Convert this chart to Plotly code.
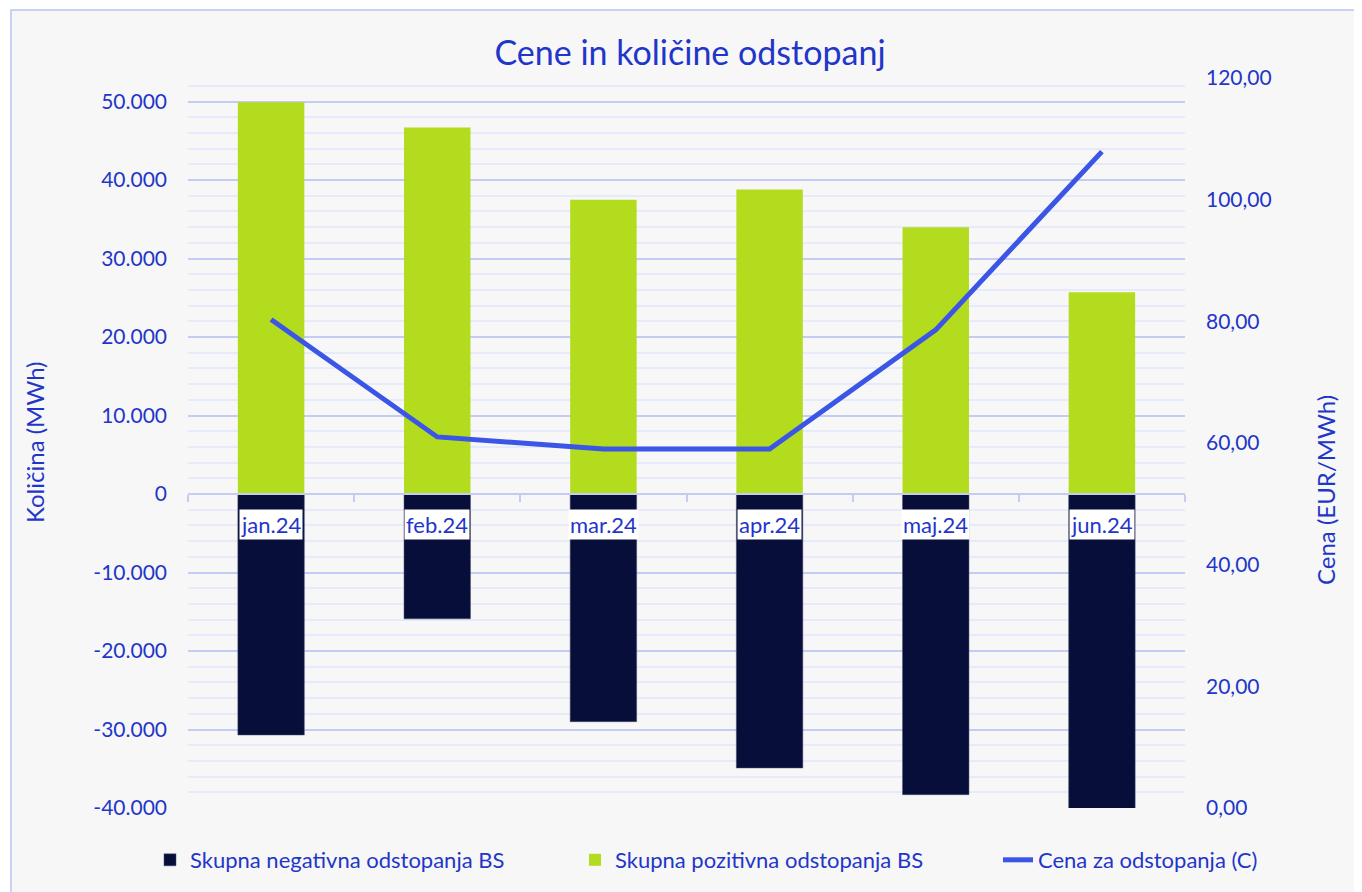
import plotly.graph_objects as go

# --- Data ---
months = ["jan.24", "feb.24", "mar.24", "apr.24", "maj.24", "jun.24"]
negativna = [-30700, -15900, -29000, -34900, -38300, -40200]   # MWh
pozitivna = [49900, 46700, 37500, 38800, 34000, 25700]         # MWh
cena = [80.3, 61.0, 59.0, 59.0, 78.6, 107.9]                   # EUR/MWh
kol_ticks = [-40000, -30000, -20000, -10000, 0, 10000, 20000, 30000, 40000, 50000]

TXT = "#1f36c9"
FONT = "Lato"
GRID = "#c4ccf4"
MINOR = "#e7eafb"

# page body has an 8px margin, so the figure is 8px smaller than the window
OFF = 8
W, H = 1362 - OFF, 892 - OFF
L, R, T, B = 188 - OFF, 1185 - OFF, 78 - OFF, 808 - OFF
pw, ph = R - L, B - T


def px_x(sx):
    # screen x -> paper x
    return (sx - OFF - L) / pw


def px_y(sy):
    # screen y -> paper y
    return (B - (sy - OFF)) / ph


y_lo, y_hi = -40000, 53000

fig = go.Figure()

fig.add_trace(go.Bar(
    x=months, y=negativna, name="Skupna negativna odstopanja BS",
    marker_color="#070e3a", marker_line=dict(color="#4a5070", width=0.5),
    width=0.4, legend="legend",
))
fig.add_trace(go.Bar(
    x=months, y=pozitivna, name="Skupna pozitivna odstopanja BS",
    marker_color="#b3dc1f", marker_line_width=0,
    width=0.4, legend="legend2",
))
fig.add_trace(go.Scatter(
    x=months, y=cena, name="Cena za odstopanja (C)", yaxis="y2",
    mode="lines", line=dict(color="#3b55e6", width=5),
    legend="legend3",
))

# category labels sitting in white boxes just under the zero line
for m in months:
    fig.add_annotation(
        x=m, y=0, xref="x", yref="y", yanchor="top", yshift=-15,
        text=m, showarrow=False, bgcolor="white", borderpad=1,
        font=dict(family=FONT, size=22, color=TXT),
    )

# axis titles
fig.add_annotation(
    x=px_x(35), y=px_y(442), xref="paper", yref="paper",
    xanchor="center", yanchor="middle",
    text="Količina (MWh)", textangle=-90, showarrow=False,
    font=dict(family=FONT, size=24, color=TXT),
)
fig.add_annotation(
    x=px_x(1325), y=px_y(490), xref="paper", yref="paper",
    xanchor="center", yanchor="middle",
    text="Cena (EUR/MWh)", textangle=-90, showarrow=False,
    font=dict(family=FONT, size=24, color=TXT),
)

# chart-area frame
fig.add_shape(
    type="rect", xref="paper", yref="paper", layer="below",
    x0=px_x(11), x1=px_x(1370),
    y0=px_y(900), y1=px_y(10),
    fillcolor="#f7f7f7", line=dict(color="#b9c3f5", width=1.5),
)

legend_style = dict(
    orientation="h", xanchor="left", yanchor="middle", y=px_y(860),
    font=dict(family=FONT, size=22, color=TXT), bgcolor="rgba(0,0,0,0)",
)

fig.update_layout(
    width=W, height=H,
    margin=dict(l=L, r=W - R, t=T, b=H - B, autoexpand=False),
    paper_bgcolor="white",
    plot_bgcolor="rgba(0,0,0,0)",
    barmode="relative",
    separators=",.",
    hovermode=False,
    showlegend=True,
    font=dict(family=FONT, color=TXT),
    title=dict(
        text="Cene in količine odstopanj",
        x=(690 - OFF) / W, y=1 - (53 - OFF) / H,
        xanchor="center", yanchor="middle",
        font=dict(family=FONT, size=34, color=TXT),
    ),
    xaxis=dict(
        type="category", range=[-0.5, 5.5],
        anchor="free", position=(0 - y_lo) / (y_hi - y_lo),
        showline=True, linecolor=GRID, linewidth=1.5,
        ticks="outside", tickson="boundaries", ticklen=7,
        tickcolor=GRID, tickwidth=1.5,
        showticklabels=False, showgrid=False,
    ),
    yaxis=dict(
        range=[y_lo, y_hi],
        tickvals=kol_ticks,
        ticktext=[f"{v:,}".replace(",", ".") for v in kol_ticks],
        showgrid=True, gridcolor=GRID, gridwidth=1.5,
        minor=dict(dtick=2000, showgrid=True, gridcolor=MINOR, gridwidth=1.5),
        zeroline=False, showline=False,
        tickfont=dict(family=FONT, size=21, color=TXT),
        ticklabelstandoff=20,
    ),
    yaxis2=dict(
        overlaying="y", side="right", range=[0, 120], dtick=20,
        tickformat=".2f", showgrid=False, zeroline=False, showline=False,
        tickfont=dict(family=FONT, size=21, color=TXT),
        ticklabelstandoff=20,
    ),
    legend=dict(x=px_x(150), **legend_style),
    legend2=dict(x=px_x(575), **legend_style),
    legend3=dict(x=px_x(998), **legend_style),
)

fig.write_html("out.html")
